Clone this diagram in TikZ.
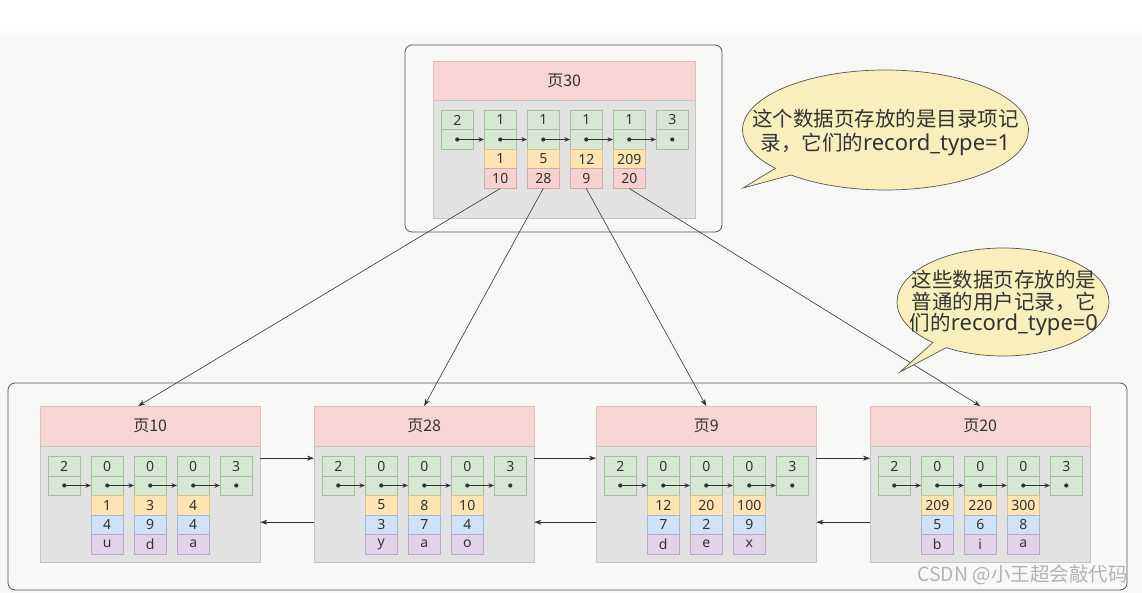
\documentclass[tikz,border=0pt]{standalone}
\usepackage{fontspec}
\setmainfont{Noto Sans}
\newfontfamily\cjk{Noto Sans CJK SC}
\usetikzlibrary{arrows.meta,shapes.callouts,shapes.geometric}
\definecolor{bgc}{HTML}{F7F7F5}
\definecolor{boxc}{HTML}{F8F8F7}
\definecolor{frame}{HTML}{555555}
\definecolor{hdrF}{HTML}{F7D5D4}
\definecolor{hdrB}{HTML}{E3BDBC}
\definecolor{bodF}{HTML}{E2E2E2}
\definecolor{bodB}{HTML}{C4C4C4}
\definecolor{gF}{HTML}{D6E8D3}
\definecolor{gB}{HTML}{A3BFA0}
\definecolor{yF}{HTML}{FCE4B3}
\definecolor{yB}{HTML}{D9C28F}
\definecolor{rF}{HTML}{F6D1CF}
\definecolor{rB}{HTML}{D2AAA8}
\definecolor{bF}{HTML}{D0E2F8}
\definecolor{bB}{HTML}{A2B6CE}
\definecolor{vF}{HTML}{E1D4E8}
\definecolor{vB}{HTML}{BAA7C5}
\definecolor{callF}{HTML}{F8EFBC}
\definecolor{txt}{HTML}{333333}
\definecolor{wm}{HTML}{B3B3B3}
\newcommand\lowpage[4]{%
  \node[hdr,minimum width=220pt,minimum height=40pt] (#1h) at (#2,406) {\cjk #3};
  \node[bodyb,minimum width=220pt,minimum height=116pt] (#1b) at (#2,446) {};
  \foreach \i/\v in {0/2,1/0,2/0,3/0,4/3}{
    \node[cg] (#1t\i) at ({#2+8+43*\i},456) {\v};
    \node[cg] (#1m\i) at ({#2+8+43*\i},475.5) {};
    \node[dotn] (#1d\i) at (#1m\i.center) {};
  }
  \foreach \i [evaluate=\i as \j using {int(\i+1)}] in {0,...,3}{
    \draw[ptr] (#1d\i.center) -- (#1m\j.west);
  }
  \foreach \a/\b/\c [count=\k] in {#4}{
    \node[cy] (#1y\k) at ({#2+8+43*\k},495) {\a};
    \node[cb] (#1u\k) at ({#2+8+43*\k},514.5) {\b};
    \node[cv] (#1v\k) at ({#2+8+43*\k},534) {\c};
  }
}
\begin{document}
\begin{tikzpicture}[x=1pt,y=-1pt,
  hdr/.style={draw=hdrB,fill=hdrF,anchor=north west,inner sep=0,font=\fontsize{16}{19}\selectfont,text=txt},
  bodyb/.style={draw=bodB,fill=bodF,anchor=north west,inner sep=0},
  cell/.style={anchor=north west,inner sep=0,minimum width=32pt,minimum height=19.5pt,font=\fontsize{14}{16}\selectfont,text=txt,line width=0.5pt},
  cg/.style={cell,draw=gB,fill=gF},
  cy/.style={cell,draw=yB,fill=yF},
  cr/.style={cell,draw=rB,fill=rF},
  cb/.style={cell,draw=bB,fill=bF},
  cv/.style={cell,draw=vB,fill=vF},
  dotn/.style={circle,fill=txt,inner sep=0,minimum size=4.2pt},
  ptr/.style={draw=txt,line width=0.8pt,-{Stealth[length=5.5pt,width=4.5pt]}},
  conn/.style={draw=txt,line width=0.6pt,-{Stealth[length=7pt,width=5pt]}},
  outer/.style={draw=frame,fill=boxc,rounded corners=7pt,line width=0.8pt},
  call/.style={ellipse callout,draw=frame,fill=callF,line width=0.7pt,inner sep=0,callout pointer arc=9}
]
\useasboundingbox (0,0) rectangle (1142,593);
\fill[bgc] (0,0) rectangle (1142,593);
\fill[white] (0,0) rectangle (1142,30);
\shade[top color=white,bottom color=bgc] (0,30) rectangle (1142,40);

% top page 30
\draw[outer] (405,45) rectangle (722,232);
\node[hdr,minimum width=262pt,minimum height=39pt] (p30h) at (433,61) {\cjk 页30};
\node[bodyb,minimum width=262pt,minimum height=118pt] (p30b) at (433,100) {};
\foreach \i/\v in {0/2,1/1,2/1,3/1,4/1,5/3}{
  \node[cg] (p30t\i) at ({441+43*\i},110) {\v};
  \node[cg] (p30m\i) at ({441+43*\i},129.5) {};
  \node[dotn] (p30d\i) at (p30m\i.center) {};
}
\foreach \i [evaluate=\i as \j using {int(\i+1)}] in {0,...,4}{
  \draw[ptr] (p30d\i.center) -- (p30m\j.west);
}
\foreach \a/\b [count=\k] in {1/10,5/28,12/9,209/20}{
  \node[cy] (p30y\k) at ({441+43*\k},149) {\a};
  \node[cr] (p30p\k) at ({441+43*\k},168.5) {\b};
}

% bottom row
\draw[outer] (8,383) rectangle (1127,590);
\lowpage{p10}{40}{页10}{1/4/u,3/9/d,4/4/a}
\lowpage{p28}{314}{页28}{5/3/y,8/7/a,10/4/o}
\lowpage{p9}{596}{页9}{12/7/d,20/2/e,100/9/x}
\lowpage{p20}{870}{页20}{209/5/b,220/6/i,300/8/a}

% page links
\draw[conn] ([yshift=46pt]p10b.east) -- ([yshift=46pt]p28b.west);
\draw[conn] ([yshift=-18pt]p28b.west) -- ([yshift=-18pt]p10b.east);
\draw[conn] ([yshift=46pt]p28b.east) -- ([yshift=46pt]p9b.west);
\draw[conn] ([yshift=-18pt]p9b.west) -- ([yshift=-18pt]p28b.east);
\draw[conn] ([yshift=46pt]p9b.east) -- ([yshift=46pt]p20b.west);
\draw[conn] ([yshift=-18pt]p20b.west) -- ([yshift=-18pt]p9b.east);

% directory pointers
\draw[conn] (p30p1.south) -- ([xshift=-12pt]p10h.north);
\draw[conn] (p30p2.south) -- (p28h.north);
\draw[conn] (p30p3.south) -- (p9h.north);
\draw[conn] (p30p4.south) -- (p20h.north);

% callouts
\coordinate (tip1) at (743,188);
\node[call,callout absolute pointer={(tip1)},minimum width=286pt,minimum height=120pt] (c1) at (885.5,130) {};
\node[align=center,inner sep=0,text=txt,font=\cjk\fontsize{20.5}{24}\selectfont] (c1t) at (885.5,132)
  {这个数据页存放的是目录项记\\录，它们的{\fontspec{Noto Sans}\fontsize{22}{24}\selectfont record\_type=1}};
\coordinate (tip2) at (900,372);
\node[call,callout absolute pointer={(tip2)},minimum width=212pt,minimum height=108pt] (c2) at (1003,302) {};
\node[align=center,inner sep=0,text=txt,font=\cjk\fontsize{20.5}{21.5}\selectfont] (c2t) at (1004,303)
  {这些数据页存放的是\\普通的用户记录，它\\们的{\fontspec{Noto Sans}\fontsize{22}{21.5}\selectfont record\_type=0}};

% watermark
\node[anchor=west,inner sep=0,text=wm,font=\cjk\fontsize{19.5}{22}\selectfont] (wmk) at (917,575) {CSDN @小王超会敲代码};
\end{tikzpicture}
\end{document}
